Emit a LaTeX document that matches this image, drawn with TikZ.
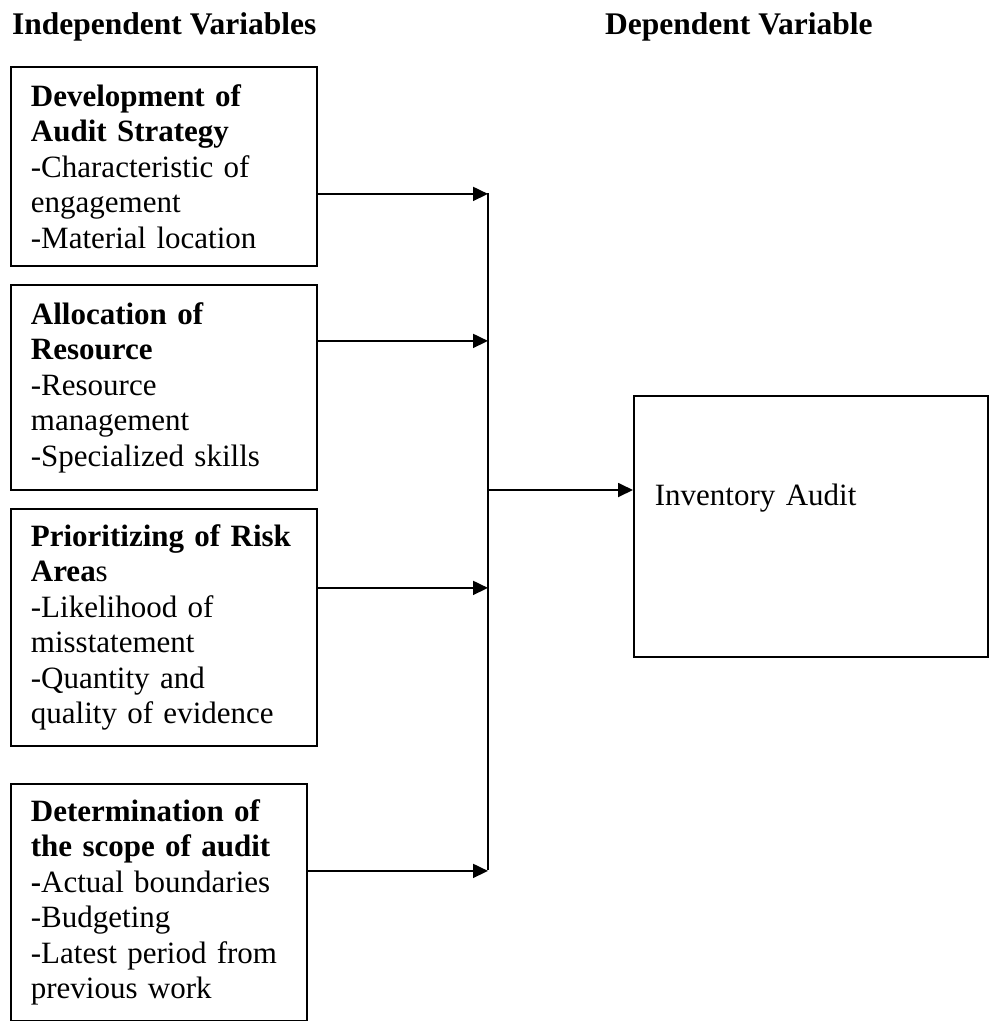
\documentclass[tikz,border=0pt]{standalone}
\usepackage{fontspec}
\setmainfont{Liberation Serif}
\usetikzlibrary{arrows.meta}
\begin{document}
\begin{tikzpicture}[x=1pt,y=-1pt,
  varbox/.style={draw, line width=1.8pt, anchor=north west, align=left,
    inner xsep=20pt, inner ysep=0pt, font=\fontsize{31}{35.5}\selectfont},
  head/.style={anchor=base west, inner sep=0pt, font=\fontsize{31.5}{34}\selectfont\bfseries},
  conn/.style={line width=1.8pt},
  arr/.style={conn, -{Triangle[length=15pt,width=14pt]}}]
\useasboundingbox (0,0) rectangle (989,1021);
\node[head] (hind) at (12,34) {Independent Variables};
\node[head] (hdep) at (605,34) {Dependent Variable};
\node[varbox, minimum height=199pt, text width=266pt] (box1) at (10,66)
  {\textbf{Development of}\\\textbf{Audit Strategy}\\-Characteristic of\\engagement\\-Material location};
\node[varbox, minimum height=205pt, text width=266pt] (box2) at (10,284)
  {\textbf{Allocation of}\\\textbf{Resource}\\-Resource\\management\\-Specialized skills};
\node[varbox, minimum height=237pt, text width=266pt] (box3) at (10,508)
  {\textbf{Prioritizing of Risk}\\\textbf{Area}s\\-Likelihood of\\misstatement\\-Quantity and\\quality of evidence};
\node[varbox, minimum height=237pt, text width=256pt] (box4) at (10,783)
  {\textbf{Determination of}\\\textbf{the scope of audit}\\\textbf{-}Actual boundaries\\-Budgeting\\-Latest period from\\previous work};
\node[draw, line width=1.8pt, anchor=north west, minimum width=354pt, minimum height=261pt,
  inner xsep=21pt, inner ysep=0pt, text width=312pt, align=left, text height=21pt, text depth=62pt,
  font=\fontsize{31}{35.5}\selectfont] (inv) at (633,395) {Inventory Audit};
\coordinate (top) at (488,193);
\coordinate (bot) at (488,870);
\coordinate (mid) at (488,490);
\draw[conn] (top) -- (bot);
\coordinate (a1) at ([yshift=-27.5pt]box1.east);
\coordinate (a2) at ([yshift=46.5pt]box2.east);
\coordinate (a3) at ([yshift=39.5pt]box3.east);
\coordinate (a4) at ([yshift=31.5pt]box4.east);
\draw[arr] (a1) -- (a1 -| top);
\draw[arr] (a2) -- (a2 -| top);
\draw[arr] (a3) -- (a3 -| top);
\draw[arr] (a4) -- (a4 -| top);
\draw[arr] (mid) -- (mid -| inv.west);
\end{tikzpicture}
\end{document}
